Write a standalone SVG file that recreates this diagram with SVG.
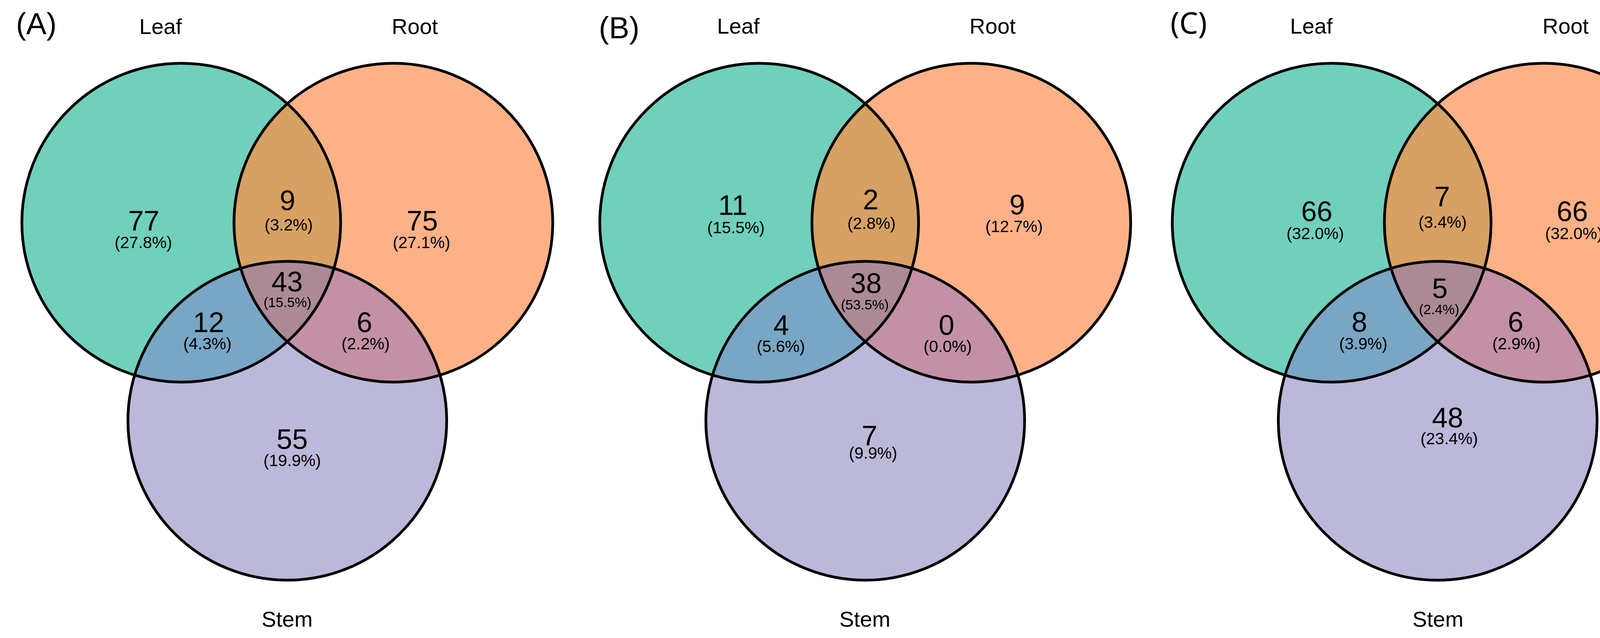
<svg xmlns="http://www.w3.org/2000/svg" xmlns:xlink="http://www.w3.org/1999/xlink" width="4386" height="1633" viewBox="0 0 4386 1633">
<style>
text{font-family:"Liberation Sans",Arial,sans-serif;fill:#000;text-anchor:middle}
.tag{font-size:78px}
.tagc{font-family:"Noto Sans","Open Sans",sans-serif;font-size:76px}
.set{font-size:56px}
.n{font-size:72px}
.p{font-size:42px}
.ps{font-size:35px}
.ol{fill:none;stroke:#000;stroke-width:7}
.leaf{fill:#70D0BB}.root{fill:#FEB187}.stem{fill:#BBB8D9}
.lr{fill:#D6A163}.ls{fill:#79A6C4}.rs{fill:#C391A5}.lrs{fill:#AB8A96}
</style>
<defs>
<g id="fills">
<circle class="leaf" cx="464" cy="570" r="408"/>
<circle class="root" cx="1007" cy="570" r="408"/>
<circle class="stem" cx="735.5" cy="1077" r="408"/>
<path class="lr" d="M735.5 265.45A408 408 0 0 1 735.5 874.55A408 408 0 0 1 735.5 265.45Z"/>
<path class="ls" d="M344.59 960.14A408 408 0 0 0 854.91 686.86A408 408 0 0 0 344.59 960.14Z"/>
<path class="rs" d="M1126.41 960.14A408 408 0 0 1 616.09 686.86A408 408 0 0 1 1126.41 960.14Z"/>
<path class="lrs" d="M616.09 686.86A408 408 0 0 1 854.91 686.86A408 408 0 0 1 735.5 874.55A408 408 0 0 1 616.09 686.86Z"/>
</g>
<circle id="cLeaf" class="ol" cx="464" cy="570" r="408"/>
<circle id="cRoot" class="ol" cx="1007" cy="570" r="408"/>
<circle id="cStem" class="ol" cx="735.5" cy="1077" r="408"/>
</defs>

<g id="panelA">
<use xlink:href="#fills" href="#fills"/>
<g id="A-leaf"><use xlink:href="#cLeaf" href="#cLeaf"/><text class="set" x="411" y="87">Leaf</text></g>
<g id="A-root"><use xlink:href="#cRoot" href="#cRoot"/><text class="set" x="1062" y="87">Root</text></g>
<g id="A-stem"><use xlink:href="#cStem" href="#cStem"/><text class="set" x="735" y="1604">Stem</text></g>
<text class="tag" x="93" y="88">(A)</text>
<g id="A-counts">
<text class="n" x="368" y="590">77</text><text class="p" x="367" y="635">(27.8%)</text>
<text class="n" x="736" y="538">9</text><text class="p" x="739" y="590">(3.2%)</text>
<text class="n" x="1081" y="590">75</text><text class="p" x="1079" y="635">(27.1%)</text>
<text class="n" x="735" y="746">43</text><text class="ps" x="736" y="786">(15.5%)</text>
<text class="n" x="534" y="850">12</text><text class="p" x="531" y="894">(4.3%)</text>
<text class="n" x="933" y="850">6</text><text class="p" x="936" y="894">(2.2%)</text>
<text class="n" x="748" y="1149">55</text><text class="p" x="748" y="1193">(19.9%)</text>
</g>
</g>

<g id="panelB">
<use xlink:href="#fills" href="#fills" x="1479.5"/>
<g id="B-leaf"><use xlink:href="#cLeaf" href="#cLeaf" x="1479.5"/><text class="set" x="1890" y="86">Leaf</text></g>
<g id="B-root"><use xlink:href="#cRoot" href="#cRoot" x="1479.5"/><text class="set" x="2541" y="86">Root</text></g>
<g id="B-stem"><use xlink:href="#cStem" href="#cStem" x="1479.5"/><text class="set" x="2214" y="1604">Stem</text></g>
<text class="tag" x="1585" y="98">(B)</text>
<g id="B-counts">
<text class="n" x="1876" y="550">11</text><text class="p" x="1884" y="597">(15.5%)</text>
<text class="n" x="2229" y="536">2</text><text class="p" x="2231" y="586">(2.8%)</text>
<text class="n" x="2604" y="549">9</text><text class="p" x="2596" y="594">(12.7%)</text>
<text class="n" x="2217" y="750">38</text><text class="ps" x="2214" y="792">(53.5%)</text>
<text class="n" x="2000" y="857">4</text><text class="p" x="1999" y="901">(5.6%)</text>
<text class="n" x="2423" y="857">0</text><text class="p" x="2426" y="901">(0.0%)</text>
<text class="n" x="2226" y="1140">7</text><text class="p" x="2235" y="1174">(9.9%)</text>
</g>
</g>

<g id="panelC">
<use xlink:href="#fills" href="#fills" x="2945"/>
<g id="C-leaf"><use xlink:href="#cLeaf" href="#cLeaf" x="2945"/><text class="set" x="3357" y="86">Leaf</text></g>
<g id="C-root"><use xlink:href="#cRoot" href="#cRoot" x="2945"/><text class="set" x="4008" y="86">Root</text></g>
<g id="C-stem"><use xlink:href="#cStem" href="#cStem" x="2945"/><text class="set" x="3681" y="1604">Stem</text></g>
<text class="tagc" x="3043" y="86">(C)</text>
<g id="C-counts">
<text class="n" x="3371" y="566">66</text><text class="p" x="3367" y="612">(32.0%)</text>
<text class="n" x="3692" y="528">7</text><text class="p" x="3693" y="583">(3.4%)</text>
<text class="n" x="4025" y="566">66</text><text class="p" x="4029" y="612">(32.0%)</text>
<text class="n" x="3686" y="763">5</text><text class="ps" x="3684" y="804">(2.4%)</text>
<text class="n" x="3480" y="849">8</text><text class="p" x="3490" y="894">(3.9%)</text>
<text class="n" x="3880" y="849">6</text><text class="p" x="3882" y="894">(2.9%)</text>
<text class="n" x="3706" y="1094">48</text><text class="p" x="3710" y="1137">(23.4%)</text>
</g>
</g>
</svg>
